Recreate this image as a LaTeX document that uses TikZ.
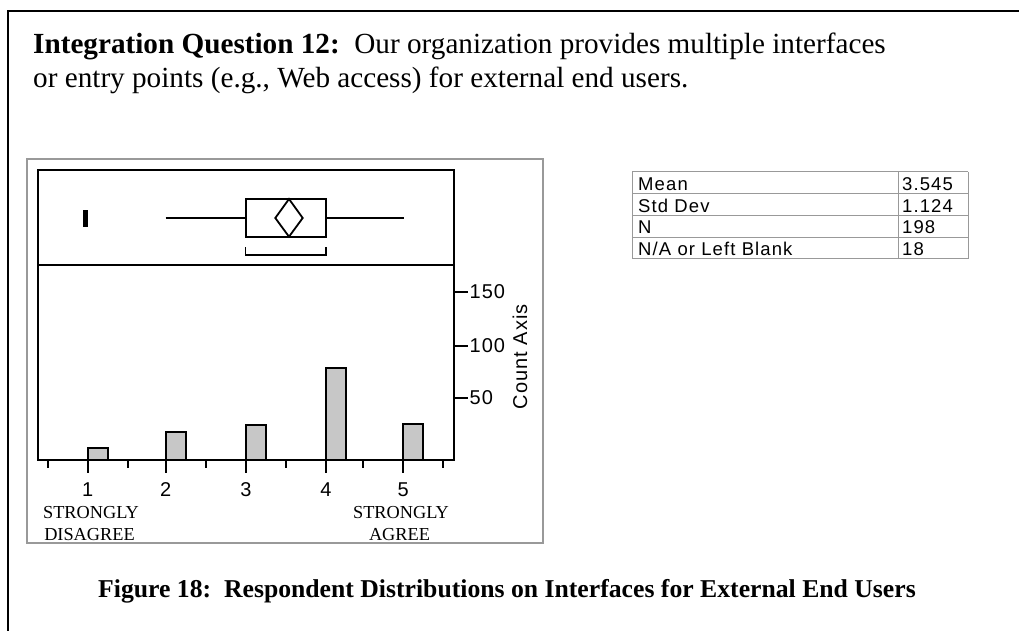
\documentclass[tikz,border=0pt]{standalone}
\usepackage{fontspec}
\setmainfont{Liberation Serif}
\newfontfamily\chartfont{Liberation Sans}[LetterSpace=5]
\newfontfamily\cellfont{Liberation Sans}[LetterSpace=6]
\usetikzlibrary{positioning}
\tikzset{histbar/.style={draw=black, line width=2pt, fill=black!22}}
\tikzset{axisline/.style={line width=2pt}}
\tikzset{boxline/.style={line width=1.8pt}}
\tikzset{panelline/.style={draw=black!40, line width=1.8pt}}
\tikzset{cellline/.style={draw=black!40, line width=1pt}}
\tikzset{celltext/.style={anchor=base west, inner sep=0pt, font=\cellfont\fontsize{18.5}{18.5}\selectfont}}
\tikzset{ticklabel/.style={inner sep=0pt, font=\chartfont\fontsize{20}{20}\selectfont}}
\tikzset{scalelabel/.style={anchor=base, inner sep=0pt, font=\fontsize{18.3}{18.3}\selectfont}}

\begin{document}
\begin{tikzpicture}[x=1pt,y=-1pt]
    \useasboundingbox (0,0) rectangle (1019,631);

    % page frame and question
    \draw[line width=2pt] (1019,11.5) -- (7.5,11.5) -- (7.5,631);
    \node[anchor=base west, inner sep=0pt, font=\fontsize{29.2}{30}\selectfont] (question) at (33,54)
        {\textbf{Integration Question 12:}\ \ Our organization provides multiple interfaces};
    \node[anchor=base west, inner sep=0pt, font=\fontsize{29.2}{30}\selectfont] (questionb) at (33,88)
        {or entry points (e.g., Web access) for external end users.};

    % chart panel
    \draw[panelline] (27,159) rectangle (543,543);
    \draw[axisline] (37.7,170) rectangle (454,460);
    \draw[axisline] (37.7,265) -- (454,265);

    % box plot
    \draw[boxline] (165.7,218) -- (245.7,218);
    \draw[boxline] (326,218) -- (404.3,218);
    \draw[boxline] (245.7,199) rectangle (326,236.7);
    \draw[boxline] (289,199) -- (302.7,218) -- (289,236.7) -- (275.3,218) -- cycle;
    \draw[line width=1.5pt] (245.7,247.3) -- (245.7,255) -- (326,255) -- (326,247.3);
    \draw[line width=4.5pt] (85.5,210) -- (85.5,226.5);

    % histogram
    \foreach \x/\top in {87.7/447.5, 165.7/431.7, 246/425.3, 326/368.3, 403.3/423.7}
        \draw[histbar] (\x,460) rectangle (\x+20,\top);
    \foreach \x in {47.7,127.7,205.7,285.7,363.3,443.3}
        \draw[axisline] (\x,460) -- (\x,467.7);
    \foreach \x/\lab in {87.7/1,165.7/2,246/3,326/4,403.3/5} {
        \draw[axisline] (\x,460) -- (\x,473);
        \node[ticklabel, anchor=base] (xlab\lab) at (\x,496.5) {\lab};
    }
    \foreach \y/\lab in {292/150,345.5/100,397.5/50} {
        \draw[axisline] (454,\y) -- (468,\y);
        \node[ticklabel, anchor=west] (ylab\lab) at (469.5,\y) {\lab};
    }
    \node[ticklabel, rotate=90] (countaxis) at (520,356.7) {Count Axis};

    \node[scalelabel] (lowtop)     at (91,518.5) {STRONGLY};
    \node[scalelabel] (lowbottom)  at (89.5,540) {DISAGREE};
    \node[scalelabel] (hightop)    at (401,518.5) {STRONGLY};
    \node[scalelabel] (highbottom) at (399.5,540) {AGREE};

    % statistics table
    \foreach \y in {172,193.7,215.3,237,258.7}
        \draw[cellline] (632,\y) -- (968,\y);
    \foreach \x in {632,898,968}
        \draw[cellline] (\x,172) -- (\x,258.7);
    \node[celltext] (meanname) at (638,190.5) {Mean};
    \node[celltext] (meanval)  at (902,190.5) {3.545};
    \node[celltext] (sdname)   at (638,212.2) {Std Dev};
    \node[celltext] (sdval)    at (902,212.2) {1.124};
    \node[celltext] (nname)    at (638,233.9) {N};
    \node[celltext] (nval)     at (902,233.9) {198};
    \node[celltext] (naname)   at (638,255.6) {N/A or Left Blank};
    \node[celltext] (naval)    at (902,255.6) {18};

    % caption
    \node[anchor=base west, inner sep=0pt, font=\bfseries\fontsize{25.7}{26}\selectfont] (caption) at (98,597)
        {Figure 18:\ \ Respondent Distributions on Interfaces for External End Users};
\end{tikzpicture}
\end{document}
